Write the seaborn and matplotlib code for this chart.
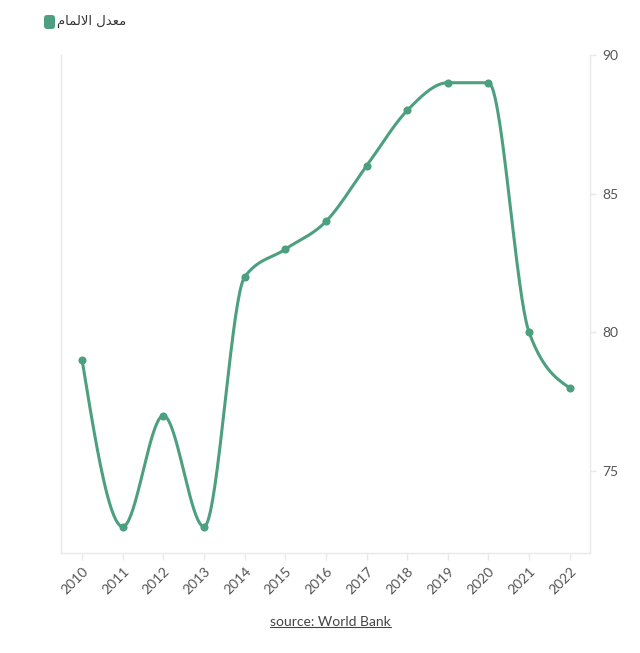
"""Literacy rate line chart (World Bank)."""

import numpy as np
import pandas as pd
import matplotlib
matplotlib.use("Agg")
import matplotlib.pyplot as plt
import seaborn as sns
from matplotlib.patches import FancyBboxPatch
from matplotlib.lines import Line2D

years = [2010, 2011, 2012, 2013, 2014, 2015, 2016, 2017, 2018, 2019, 2020, 2021, 2022]
rate = [79, 73, 77, 73, 82, 83, 84, 86, 88, 89, 89, 80, 78]
y_ticks = [75, 80, 85, 90]
series_name = "معدل الالمام"
# shaped + visually ordered form of series_name (matplotlib has no Arabic shaping)
series_label = "\ufee1\ufe8e\ufee4\ufedf\ufefb\ufe8d \ufedd\ufeaa\ufecc\ufee3"
source = "source: World Bank"

GREEN = "#4c9f7f"
GRID = "#e8e8e8"
TXT = "#555555"


def monotone_curve(x, y, n=40):
    """d3 curveMonotoneX style smoothing between the data points."""
    x = np.asarray(x, float)
    y = np.asarray(y, float)
    h = np.diff(x)
    s = np.diff(y) / h
    t = np.zeros_like(y)
    for i in range(1, len(x) - 1):
        p = (s[i - 1] * h[i] + s[i] * h[i - 1]) / (h[i - 1] + h[i])
        t[i] = (np.sign(s[i - 1]) + np.sign(s[i])) * min(abs(s[i - 1]), abs(s[i]), 0.5 * abs(p))
    t[0] = (3 * s[0] - t[1]) / 2
    t[-1] = (3 * s[-1] - t[-2]) / 2
    xs, ys = [], []
    for i in range(len(x) - 1):
        u = np.linspace(0, 1, n, endpoint=False)
        h00 = 2 * u**3 - 3 * u**2 + 1
        h10 = u**3 - 2 * u**2 + u
        h01 = -2 * u**3 + 3 * u**2
        h11 = u**3 - u**2
        xs.append(x[i] + u * h[i])
        ys.append(h00 * y[i] + h10 * h[i] * t[i] + h01 * y[i + 1] + h11 * h[i] * t[i + 1])
    xs.append([x[-1]])
    ys.append([y[-1]])
    return np.concatenate(xs), np.concatenate(ys)


df = pd.DataFrame({"year": years, "rate": rate})
cx, cy = monotone_curve(df["year"], df["rate"])
curve = pd.DataFrame({"year": cx, "rate": cy})

sns.set_style("white")
plt.rcParams["font.family"] = ["Lato", "DejaVu Sans"]

fig = plt.figure(figsize=(6.4, 6.53), dpi=100)
ax = fig.add_axes([0.0953, 0.1531, 0.8267, 0.7627])

sns.lineplot(data=curve, x="year", y="rate", ax=ax, color=GREEN, linewidth=2.2, sort=False)
sns.scatterplot(data=df, x="year", y="rate", ax=ax, color=GREEN, s=34, edgecolor=GREEN, linewidth=0, zorder=3)

ax.set_xlim(2009.48, 2022.5)
ax.set_ylim(72.05, 90)
ax.set_xticks(years)
ax.set_xticklabels([str(y) for y in years], rotation=45, ha="right", rotation_mode="anchor")
ax.set_yticks(y_ticks)
ax.yaxis.tick_right()
ax.set_xlabel("")
ax.set_ylabel("")

for side in ["left", "bottom", "right"]:
    ax.spines[side].set_visible(True)
    ax.spines[side].set_color(GRID)
    ax.spines[side].set_linewidth(1.0)
ax.spines["top"].set_visible(False)

ax.tick_params(axis="x", colors=GRID, labelcolor=TXT, labelsize=10, length=5, width=1, pad=4, direction="out", bottom=True)
ax.tick_params(axis="y", colors=GRID, labelcolor=TXT, labelsize=10, length=4, width=1, pad=5, direction="out", right=True, left=False)

# legend
fig.patches.append(FancyBboxPatch((44 / 640, 1 - 29 / 653), 11 / 640, 14 / 653,
                                  boxstyle="round,pad=0,rounding_size=0.005",
                                  transform=fig.transFigure, facecolor=GREEN, edgecolor="none"))
fig.text(57 / 640, 1 - 22 / 653, series_label, family=["DejaVu Sans"], fontsize=9.5,
         color="#333333", ha="left", va="center")

# source, underlined
src = fig.text(0.516, 1 - 622 / 653, source, fontsize=10, color="#444444", ha="center", va="center")
fig.canvas.draw()
bb = src.get_window_extent().transformed(fig.transFigure.inverted())
fig.add_artist(Line2D([bb.x0, bb.x1], [bb.y0 + 0.001, bb.y0 + 0.001], transform=fig.transFigure,
                      color="#444444", linewidth=0.8))

fig.savefig("out.png", dpi=100, facecolor="white")
